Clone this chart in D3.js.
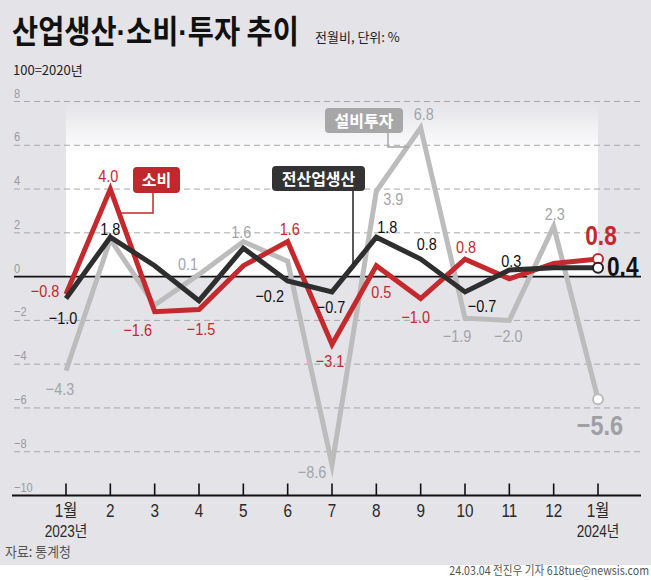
<!DOCTYPE html>
<html>
<head>
<meta charset="utf-8">
<script src="https://cdn.jsdelivr.net/npm/d3@7"></script>
<style>
  html, body { margin: 0; padding: 0; background: #fff; }
  svg { display: block; }
</style>
</head>
<body>
<div id="chart"></div>
<script>
// ---------------- data ----------------
const months = ["1월", "2", "3", "4", "5", "6", "7", "8", "9", "10", "11", "12", "1월"];
const yearLabels = ["2023년", "", "", "", "", "", "", "", "", "", "", "", "2024년"];
const production = [-1.0, 1.8, 0.5, -1.1, 1.3, -0.2, -0.7, 1.8, 0.8, -0.7, 0.3, 0.4, 0.4];   // 전산업생산
const retail     = [-0.8, 4.0, -1.6, -1.5, 0.5, 1.6, -3.1, 0.5, -1.0, 0.8, -0.1, 0.6, 0.8];   // 소비
const investment = [-4.3, 1.7, -1.3, 0.1, 1.6, 0.7, -8.6, 3.9, 6.8, -1.9, -2.0, 2.3, -5.6];  // 설비투자
const yTicks = [8, 6, 4, 2, 0, -2, -4, -6, -8, -10];
const titleParts = ["산업생산", "·", "소비", "·", "투자 추이"];

// label placement (offsets from the point, px); null = no label
const retailLabelOffsets = [[-21, 3], [-2, -7], [-17, 24], [2, 26], null, [2, -7], [-2, 23], [5, 32], [-5, 24], [1, -6], null, null, null];
const prodLabelOffsets   = [[-3, 25], [0, -2], null, null, null, [-18, 21], [-1, 21], [11, -4], [6, -9], [17, 20], [2, -3], null, null];
const invLabelOffsets    = [[-6, 24], null, null, [-11, -4], [-2, -4], null, [-20, 13], [17, 14], [3, -8], [-8, 24], [-1, 22], [1, -6], null];

// ---------------- setup ----------------
const W = 651, H = 580;
const RED = "#c4292e", BLACK = "#2e2e2e", GRAY = "#bcbcbc";
const BG = "#e3e3e8";
const NUM_FONT = "'Liberation Sans', Arial, 'Noto Sans CJK KR', sans-serif";
const KR_FONT = "'Noto Sans CJK KR', 'Noto Sans', sans-serif";

const svg = d3.select("#chart").append("svg").attr("width", W).attr("height", H);

const x = d3.scaleLinear().domain([0, months.length - 1]).range([66, 598]);
const y = d3.scaleLinear().domain([-10, 8]).range([495.5, 101.5]);

// background
svg.append("rect").attr("x", 0).attr("y", 0).attr("width", W).attr("height", H).attr("fill", "#fff");
svg.append("rect").attr("x", 0).attr("y", 0).attr("width", W).attr("height", 565).attr("fill", BG);

// white panel with gradient
const defs = svg.append("defs");
const grad = defs.append("linearGradient").attr("id", "panelGrad").attr("x1", 0).attr("y1", 0).attr("x2", 0).attr("y2", 1);
grad.append("stop").attr("offset", "0%").attr("stop-color", BG);
grad.append("stop").attr("offset", "30%").attr("stop-color", "#ffffff");
grad.append("stop").attr("offset", "100%").attr("stop-color", "#ffffff");
svg.append("rect")
  .attr("x", x(0)).attr("y", y(8))
  .attr("width", x(12) - x(0)).attr("height", y(0) - y(8))
  .attr("fill", "url(#panelGrad)");

// helper for condensed text
function ctext(g, px, py, txt, o) {
  return g.append("text")
    .attr("transform", `translate(${px},${py}) scale(${o.sx || 0.85},1)`)
    .attr("text-anchor", o.anchor || "middle")
    .attr("font-family", o.family || NUM_FONT)
    .attr("font-size", o.size || 17)
    .attr("font-weight", o.weight || "normal")
    .attr("fill", o.fill || "#000")
    .text(txt);
}
// text fitted to a target width via horizontal scale (measured)
function fitText(g, px, py, txt, targetW, o) {
  const t = g.append("text")
    .attr("text-anchor", o.anchor || "start")
    .attr("font-family", o.family || KR_FONT)
    .attr("font-size", o.size)
    .attr("font-weight", o.weight || "normal")
    .attr("fill", o.fill || "#000");
  if (Array.isArray(txt)) {
    txt.forEach(p => {
      const ts = t.append("tspan").text(p);
      if (p === "·") ts.attr("font-family", NUM_FONT);
    });
  } else {
    t.text(txt);
  }
  const nat = t.node().getComputedTextLength() || targetW;
  const s = Math.min(1, targetW / nat);
  t.attr("transform", `translate(${px},${py}) scale(${s},1)`);
  return t;
}
const fmt = v => (v < 0 ? "\u2212" : "") + Math.abs(v).toFixed(1);

// grid lines
const grid = svg.append("g");
yTicks.filter(t => t !== 0 && t !== -10).forEach(t => {
  grid.append("line")
    .attr("x1", 14).attr("x2", 640)
    .attr("y1", y(t)).attr("y2", y(t))
    .attr("stroke", "#a8a8ac").attr("stroke-width", 1)
    .attr("stroke-dasharray", "6,4");
});
// y tick labels
yTicks.forEach(t => {
  ctext(grid, 14, y(t) - 4, t < 0 ? "\u2212" + Math.abs(t) : String(t),
    { size: 13, fill: "#9a9a9e", anchor: "start", sx: 0.85 });
});
// zero line
svg.append("line").attr("x1", 14).attr("x2", 641).attr("y1", y(0)).attr("y2", y(0))
  .attr("stroke", "#111").attr("stroke-width", 1.6);

// x axis
const axisG = svg.append("g");
axisG.append("line").attr("x1", 12).attr("x2", 641).attr("y1", y(-10)).attr("y2", y(-10))
  .attr("stroke", "#111").attr("stroke-width", 2);
months.forEach((m, i) => {
  axisG.append("line").attr("x1", x(i)).attr("x2", x(i))
    .attr("y1", y(-10) - 12).attr("y2", y(-10))
    .attr("stroke", "#111").attr("stroke-width", 1.6);
  ctext(axisG, x(i), 517, m, { size: 18, fill: "#2a2a2a", sx: 0.85 });
  if (yearLabels[i]) ctext(axisG, x(i), 537, yearLabels[i], { size: 16, fill: "#2a2a2a", sx: 0.85 });
});

// legend leader lines
const leg = svg.append("g");
leg.append("path").attr("d", "M153,190 V213 H121").attr("fill", "none").attr("stroke", RED).attr("stroke-width", 1.5);
leg.append("path").attr("d", "M353,188 V264").attr("fill", "none").attr("stroke", "#222").attr("stroke-width", 1.5);
leg.append("path").attr("d", "M388,130 V147 H409").attr("fill", "none").attr("stroke", "#a7a7a7").attr("stroke-width", 1.5);

// lines
const line = d3.line().x((d, i) => x(i)).y(d => y(d));
const seriesList = [
  { values: investment, color: GRAY, offsets: invLabelOffsets, labelColor: "#a5a5a8" },
  { values: retail, color: RED, offsets: retailLabelOffsets, labelColor: RED },
  { values: production, color: BLACK, offsets: prodLabelOffsets, labelColor: "#111" }
];
seriesList.forEach(s => {
  svg.append("path").datum(s.values).attr("d", line)
    .attr("fill", "none").attr("stroke", s.color).attr("stroke-width", 5)
    .attr("stroke-linejoin", "miter").attr("stroke-miterlimit", 10);
});
// end markers
seriesList.forEach(s => {
  const last = s.values.length - 1;
  svg.append("circle").attr("cx", x(last)).attr("cy", y(s.values[last])).attr("r", 5)
    .attr("fill", "#fff").attr("stroke", s.color === BLACK ? "#222" : s.color).attr("stroke-width", 2);
});

// data labels
const lbl = svg.append("g");
seriesList.forEach(s => {
  s.values.forEach((v, i) => {
    const o = s.offsets[i];
    if (!o) return;
    ctext(lbl, x(i) + o[0], y(v) + o[1], fmt(v), { size: 17, fill: s.labelColor, sx: 0.85 });
  });
});
// end labels (big)
const L = months.length - 1;
ctext(lbl, x(L) + 3, y(retail[L]) - 14, fmt(retail[L]), { size: 27, weight: "bold", fill: RED, sx: 0.84 });
ctext(lbl, x(L) + 9, y(production[L]) + 8, fmt(production[L]), { size: 27, weight: "bold", fill: "#111", anchor: "start", sx: 0.84 });
ctext(lbl, x(L) + 2, y(investment[L]) + 36, fmt(investment[L]), { size: 28, weight: "bold", fill: "#a0a0a4", sx: 0.84 });

// legend boxes
function legendBox(bx, by, bw, bh, fill, txt) {
  leg.append("rect").attr("x", bx).attr("y", by).attr("width", bw).attr("height", bh)
    .attr("rx", 4).attr("fill", fill);
  leg.append("text").attr("x", bx + bw / 2).attr("y", by + bh / 2 + 6)
    .attr("text-anchor", "middle").attr("font-family", KR_FONT)
    .attr("font-size", 16).attr("font-weight", "bold").attr("fill", "#fff").text(txt);
}
svg.node().appendChild(leg.node());
legendBox(133, 167, 47, 26, "#c0282d", "소비");
legendBox(272, 166, 93, 25, "#333333", "전산업생산");
legendBox(325, 108, 78, 25, "#a7a7a7", "설비투자");

// titles
const head = svg.append("g");
fitText(head, 12, 43, titleParts, 287, { size: 32, weight: "bold", fill: "#111" });
fitText(head, 315, 42, "전월비, 단위: %", 93, { size: 13, fill: "#222" });
fitText(head, 13, 75, "100=2020년", 82, { size: 13, fill: "#222" });

// source & credit
fitText(head, 5, 557, "자료: 통계청", 66, { size: 14, fill: "#555" });
fitText(head, 649, 575, "24.03.04 전진우 기자 618tue@newsis.com", 200, { size: 12, fill: "#555", anchor: "end" });
</script>
</body>
</html>
